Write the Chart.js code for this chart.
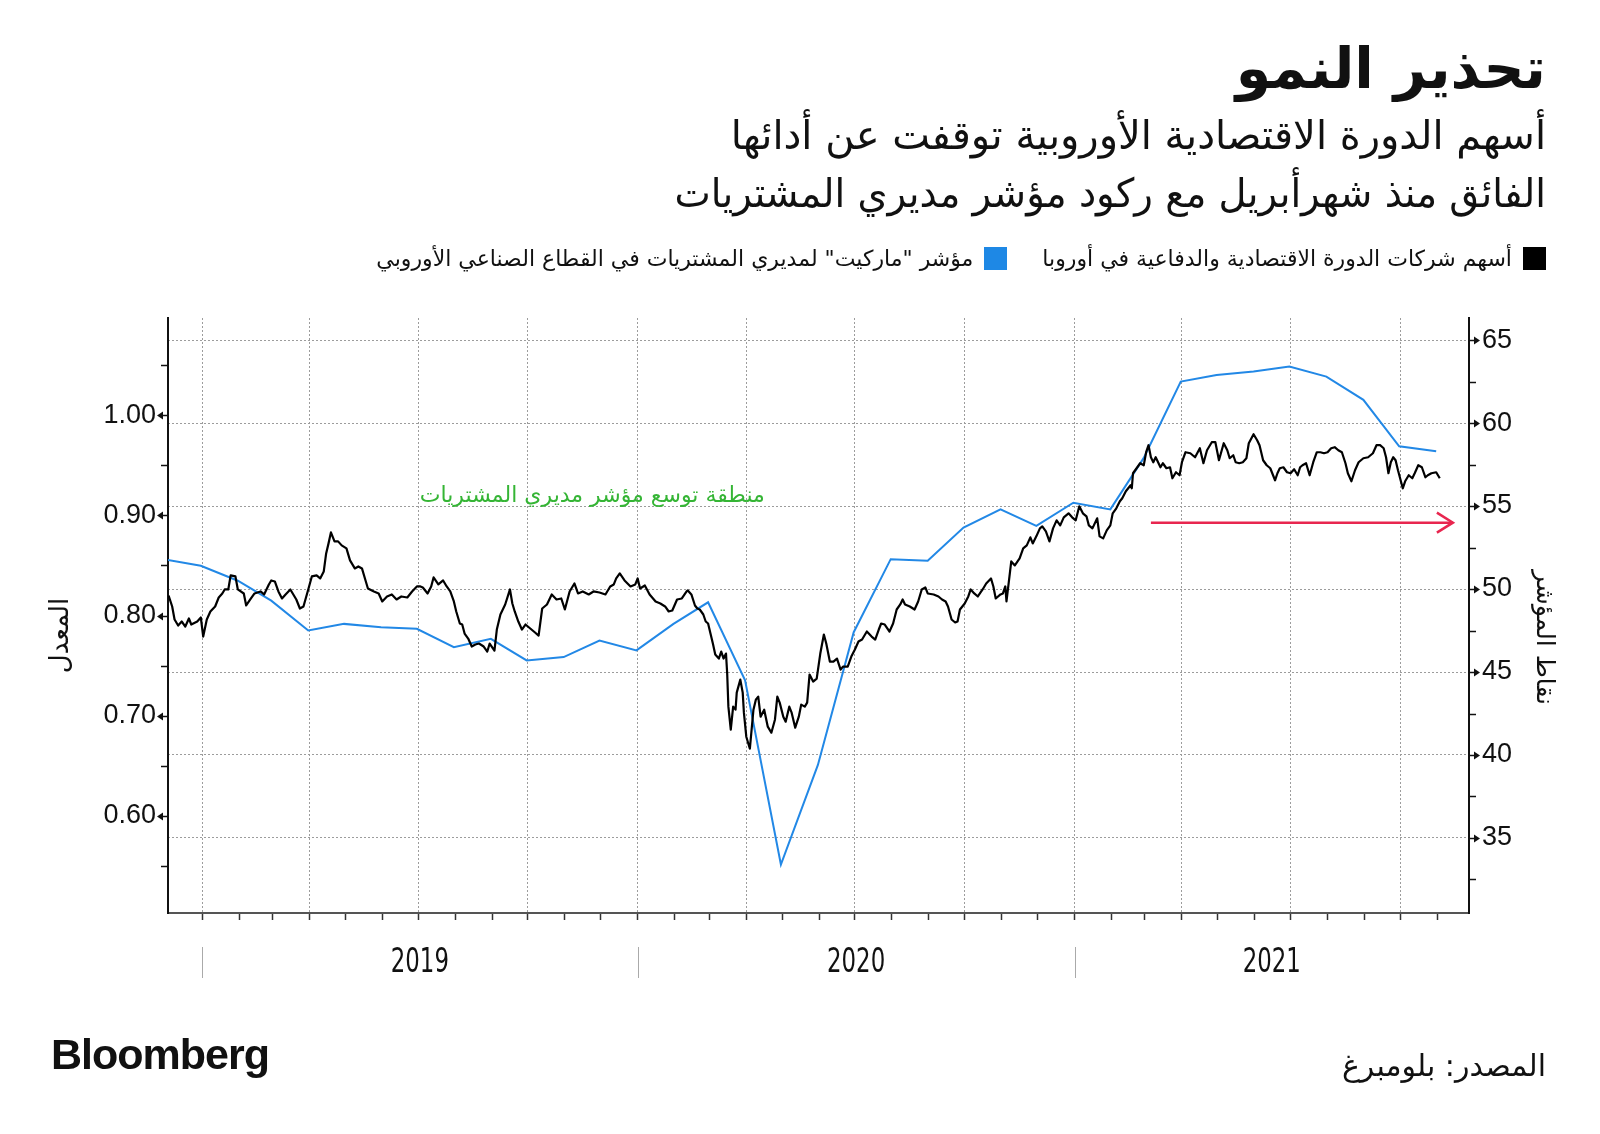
<!DOCTYPE html>
<html lang="ar">
<head>
<meta charset="utf-8">
<title>تحذير النمو</title>
<script src="https://cdn.jsdelivr.net/npm/chart.js@4.4.1/dist/chart.umd.min.js"></script>
<style>
  html, body { margin: 0; padding: 0; background: #fff; }
  #wrap { position: relative; width: 1600px; height: 1134px; overflow: hidden; }
  #chart { position: absolute; left: 0; top: 0; }
  .txt { position: absolute; direction: rtl; white-space: nowrap; font-family: "DejaVu Sans", sans-serif; color: #111; line-height: 1; }
  #title { right: 54px; top: 40px; font-size: 57px; font-weight: bold; }
  .sub { right: 54px; font-size: 40px; }
  #sub1 { top: 115px; }
  #sub2 { top: 173px; transform: scaleX(0.963); transform-origin: right center; }
  #legend { right: 54px; top: 247px; font-size: 22px; display: flex; align-items: center; }
  .item { display: flex; align-items: center; margin-left: 35px; }
  .key { display: inline-block; width: 23px; height: 23px; margin-left: 11px; }
  #source { right: 54px; top: 1051px; font-size: 30px; }
  #brand { left: 51px; top: 1033px; direction: ltr; font-family: "Liberation Sans", sans-serif; font-weight: bold; font-size: 43px; letter-spacing: -1px; }
</style>
</head>
<body>
<div id="wrap">
  <canvas id="chart" width="1600" height="1134"></canvas>
  <div id="title" class="txt">تحذير النمو</div>
  <div id="sub1" class="txt sub">أسهم الدورة الاقتصادية الأوروبية توقفت عن أدائها</div>
  <div id="sub2" class="txt sub">الفائق منذ شهرأبريل مع ركود مؤشر مديري المشتريات</div>
  <div id="legend" class="txt">
    <div class="item"><span class="key" style="background:#000"></span><span>أسهم شركات الدورة الاقتصادية والدفاعية في أوروبا</span></div>
    <div class="item"><span class="key" style="background:#1e88e5"></span><span>مؤشر "ماركيت" لمديري المشتريات في القطاع الصناعي الأوروبي</span></div>
  </div>
  <div id="source" class="txt">المصدر: بلومبرغ</div>
  <div id="brand" class="txt">Bloomberg</div>
</div>
<script>
// days counted from 1 Jan 2019
const ratioDays = [-28,-25,-23,-20,-17,-14,-11,-9,-4,-1,1,4,7,11,14,17,19,22,24,28,30,35,37,41,44,49,52,56,58,61,64,67,70,74,76,79,82,85,89,92,96,99,102,104,106,108,111,114,117,121,124,128,131,134,137,139,144,148,151,155,159,163,167,172,176,180,
  183,185,189,192,194,198,202,205,208,211,213,216,218,220,223,226,229,232,236,239,241,245,247,250,254,258,260,262,265,268,271,275,279,282,285,289,293,297,301,304,308,312,315,319,324,328,333,338,342,345,347,350,354,359,363,365,367,371,375,380,384,388,391,394,398,402,406,
  407,410,413,415,417,420,422,424,426,428,430,433,435,437,439,440,441,443,445,447,448,451,453,454,456,459,462,464,466,468,471,474,477,480,482,484,487,489,492,494,497,500,502,505,507,509,512,515,518,521,523,526,529,532,535,537,541,544,547,550,553,557,561,564,567,569,572,576,579,582,585,587,589,593,597,600,603,606,608,613,617,620,623,625,628,631,633,635,639,642,644,647,650,654,657,661,663,665,669,671,673,674,677,678,681,
  685,688,691,694,696,699,702,704,707,710,713,716,719,722,726,729,732,735,738,741,743,746,750,752,755,758,761,763,766,769,771,774,778,779,780,783,786,789,791,793,795,797,799,803,805,808,811,813,816,819,821,824,828,832,836,839,842,846,849,852,
  856,859,861,864,866,869,872,875,877,881,884,886,889,892,895,898,899,901,903,906,909,912,915,918,920,922,925,928,931,934,937,940,943,946,949,952,955,958,960,963,966,969,973,977,981,984,987,990,992,994,996,998,1000,1002,1006,1008,1011,1014,1016,1019,1022,1025,1027,1030,1034,1037];
const ratioValues = [0.820,0.809,0.796,0.790,0.794,0.789,0.797,0.791,0.794,0.798,0.779,0.796,0.804,0.809,0.818,0.822,0.826,0.826,0.840,0.839,0.826,0.822,0.810,0.817,0.822,0.824,0.821,0.831,0.835,0.834,0.824,0.817,0.821,0.826,0.822,0.816,0.807,0.809,0.826,0.839,0.840,0.837,0.844,0.862,0.872,0.883,0.874,0.874,0.870,0.867,0.855,0.847,0.849,0.847,0.835,0.827,0.824,0.822,0.814,0.819,0.821,0.816,0.819,0.818,0.824,0.829,
  0.829,0.828,0.822,0.829,0.838,0.831,0.835,0.829,0.824,0.814,0.804,0.792,0.791,0.782,0.777,0.769,0.771,0.772,0.769,0.764,0.772,0.765,0.786,0.801,0.811,0.826,0.812,0.804,0.794,0.786,0.791,0.787,0.783,0.780,0.807,0.811,0.821,0.816,0.817,0.806,0.824,0.832,0.822,0.824,0.821,0.824,0.823,0.821,0.829,0.831,0.837,0.842,0.835,0.829,0.831,0.837,0.827,0.830,0.821,0.814,0.812,0.809,0.804,0.805,0.816,0.817,0.824,
  0.825,0.821,0.810,0.807,0.806,0.801,0.794,0.792,0.782,0.772,0.761,0.757,0.764,0.757,0.762,0.742,0.709,0.686,0.709,0.706,0.723,0.736,0.723,0.703,0.679,0.667,0.706,0.716,0.719,0.699,0.706,0.689,0.683,0.696,0.719,0.713,0.699,0.694,0.709,0.703,0.688,0.699,0.711,0.709,0.713,0.741,0.734,0.737,0.762,0.781,0.772,0.754,0.754,0.757,0.746,0.749,0.749,0.759,0.766,0.774,0.776,0.784,0.779,0.776,0.786,0.792,0.791,0.784,0.792,0.806,0.811,0.816,0.811,0.809,0.806,0.814,0.826,0.828,0.822,0.821,0.819,0.816,0.814,0.809,0.796,0.793,0.794,0.806,0.812,0.819,0.826,0.822,0.819,0.826,0.832,0.837,0.829,0.817,0.821,0.822,0.829,0.814,0.844,0.854,0.850,
  0.857,0.867,0.870,0.878,0.872,0.879,0.887,0.889,0.884,0.874,0.887,0.895,0.890,0.898,0.902,0.898,0.895,0.909,0.902,0.899,0.890,0.887,0.897,0.879,0.877,0.885,0.890,0.902,0.907,0.914,0.917,0.924,0.930,0.927,0.942,0.947,0.952,0.950,0.963,0.970,0.958,0.953,0.958,0.948,0.952,0.947,0.948,0.937,0.943,0.940,0.953,0.963,0.962,0.958,0.967,0.952,0.965,0.973,0.973,0.955,
  0.972,0.965,0.957,0.960,0.953,0.952,0.953,0.957,0.972,0.981,0.975,0.970,0.955,0.950,0.947,0.938,0.935,0.942,0.947,0.948,0.943,0.942,0.946,0.940,0.948,0.950,0.952,0.940,0.953,0.963,0.963,0.962,0.963,0.967,0.968,0.965,0.963,0.952,0.942,0.934,0.945,0.953,0.957,0.958,0.962,0.970,0.970,0.967,0.958,0.942,0.953,0.958,0.955,0.945,0.927,0.934,0.940,0.937,0.942,0.950,0.948,0.938,0.940,0.942,0.943,0.937];

const pmiDates = ['2018-11-30','2018-12-31','2019-01-31','2019-02-28','2019-03-31','2019-04-30','2019-05-31','2019-06-30','2019-07-31','2019-08-31','2019-09-30','2019-10-31','2019-11-30','2019-12-31',
  '2020-01-31','2020-02-29','2020-03-31','2020-04-30','2020-05-31','2020-06-30','2020-07-31','2020-08-31','2020-09-30','2020-10-31','2020-11-30','2020-12-31',
  '2021-01-31','2021-02-28','2021-03-31','2021-04-30','2021-05-31','2021-06-30','2021-07-31','2021-08-31','2021-09-30','2021-10-31'];
const pmiValues = [51.8,51.4,50.5,49.3,47.5,47.9,47.7,47.6,46.5,47.0,45.7,45.9,46.9,46.3,47.9,49.2,44.5,33.4,39.4,47.4,51.8,51.7,53.7,54.8,53.8,55.2,54.8,57.9,62.5,62.9,63.1,63.4,62.8,61.4,58.6,58.3];

const arrowDays = [795, 1048];
const arrowLevel = 54.0;
const noteText = 'منطقة توسع مؤشر مديري المشتريات';
const noteDay = 327, noteLevel = 55.6;

const years = ['2019', '2020', '2021'];
const leftTicks = [0.55, 0.60, 0.65, 0.70, 0.75, 0.80, 0.85, 0.90, 0.95, 1.00, 1.05];
const rightTicks = [32.5, 35, 37.5, 40, 42.5, 45, 47.5, 50, 52.5, 55, 57.5, 60, 62.5, 65];
const leftTitle = 'المعدل';
const rightTitle = 'نقاط المؤشر';

const Y0 = Date.UTC(2019, 0, 1);
const toDay = s => (Date.parse(s) - Y0) / 864e5;
const X_MIN = -28.5, X_MAX = 1061.5;

// month-start ticks; dotted grid only at quarter starts
const monthTicks = [];
for (let y = 2018; y <= 2021; y++) {
  for (let m = 0; m < 12; m++) {
    const d = (Date.UTC(y, m, 1) - Y0) / 864e5;
    if (d >= X_MIN && d <= X_MAX) monthTicks.push({ value: d, quarter: m % 3 === 0 });
  }
}
const quarterDays = new Set(monthTicks.filter(t => t.quarter).map(t => t.value));
const yearStarts = years.map(y => (Date.UTC(+y, 0, 1) - Y0) / 864e5);
// year label sits in the middle of the visible part of that year
const yearCentres = years.map((y, i) => {
  const a = Math.max(yearStarts[i], X_MIN);
  const b = Math.min((Date.UTC(+y + 1, 0, 1) - Y0) / 864e5, X_MAX);
  return (a + b) / 2;
});

const isMajorLeft = v => Math.round(v * 100) % 10 === 0;
const isMajorRight = v => Math.round(v * 10) % 50 === 0;

const RED = '#e8264f';
const GRID = '#9c9c9c';

const extras = {
  id: 'extras',
  afterDatasetsDraw(chart) {
    const { ctx, scales } = chart;
    const meta = chart.getDatasetMeta(2);
    const p = meta.data[meta.data.length - 1];
    ctx.save();
    ctx.strokeStyle = RED;
    ctx.lineWidth = 2.5;
    ctx.beginPath();
    ctx.moveTo(p.x - 16, p.y - 10);
    ctx.lineTo(p.x, p.y);
    ctx.lineTo(p.x - 16, p.y + 10);
    ctx.stroke();
    ctx.fillStyle = '#35b535';
    ctx.font = '22px "DejaVu Sans"';
    ctx.direction = 'rtl';
    ctx.textAlign = 'center';
    ctx.textBaseline = 'middle';
    ctx.fillText(noteText, scales.x.getPixelForValue(noteDay), scales.y1.getPixelForValue(noteLevel));
    ctx.restore();
  },
  afterDraw(chart) {
    const { ctx, chartArea: a, scales } = chart;
    ctx.save();
    ctx.fillStyle = '#111';
    ctx.strokeStyle = '#111';
    ctx.lineWidth = 1.5;
    const marks = (scale, edge, dir, isMajor) => {
      scale.ticks.forEach(t => {
        const py = Math.round(scale.getPixelForValue(t.value)) + 0.5;
        ctx.beginPath();
        ctx.moveTo(edge, py);
        ctx.lineTo(edge + dir * 6, py);
        ctx.stroke();
        if (isMajor(t.value)) {
          ctx.beginPath();
          ctx.moveTo(edge + dir * 10, py);
          ctx.lineTo(edge + dir * 4, py - 4);
          ctx.lineTo(edge + dir * 4, py + 4);
          ctx.closePath();
          ctx.fill();
        }
      });
    };
    marks(scales.y, a.left - 1, -1, isMajorLeft);
    marks(scales.y1, a.right + 1, 1, isMajorRight);

    // year separators and labels under the axis
    ctx.strokeStyle = '#aaa';
    ctx.lineWidth = 1;
    yearStarts.forEach(d => {
      const px = Math.round(scales.x.getPixelForValue(d)) + 0.5;
      ctx.beginPath();
      ctx.moveTo(px, a.bottom + 34);
      ctx.lineTo(px, a.bottom + 65);
      ctx.stroke();
    });
    ctx.font = '33px "DejaVu Sans Condensed", "DejaVu Sans", sans-serif';
    ctx.textAlign = 'center';
    ctx.textBaseline = 'middle';
    years.forEach((y, i) => {
      ctx.save();
      ctx.translate(scales.x.getPixelForValue(yearCentres[i]), a.bottom + 50);
      ctx.scale(0.77, 1);
      ctx.fillText(y, 0, 0);
      ctx.restore();
    });

    // axis titles
    const mid = (a.top + a.bottom) / 2;
    ctx.font = '26px "DejaVu Sans"';
    ctx.direction = 'rtl';
    ctx.save();
    ctx.translate(61, mid + 20);
    ctx.rotate(-Math.PI / 2);
    ctx.fillText(leftTitle, 0, 0);
    ctx.restore();
    ctx.font = '25px "DejaVu Sans"';
    ctx.save();
    ctx.translate(a.right + 74, mid + 22);
    ctx.rotate(Math.PI / 2);
    ctx.fillText(rightTitle, 0, 0);
    ctx.restore();
    ctx.restore();
  }
};

new Chart(document.getElementById('chart'), {
  type: 'line',
  data: {
    datasets: [
      {
        label: 'أسهم شركات الدورة الاقتصادية والدفاعية في أوروبا',
        data: ratioDays.map((d, i) => ({ x: d, y: ratioValues[i] })),
        yAxisID: 'y', borderColor: '#000', borderWidth: 2.2, pointRadius: 0, borderJoinStyle: 'round'
      },
      {
        label: 'مؤشر "ماركيت" لمديري المشتريات في القطاع الصناعي الأوروبي',
        data: pmiDates.map((s, i) => ({ x: toDay(s), y: pmiValues[i] })),
        yAxisID: 'y1', borderColor: '#2288e6', borderWidth: 2, pointRadius: 0
      },
      {
        label: 'arrow',
        data: arrowDays.map(d => ({ x: d, y: arrowLevel })),
        yAxisID: 'y1', borderColor: RED, borderWidth: 2.5, pointRadius: 0
      }
    ]
  },
  options: {
    responsive: false,
    animation: false,
    devicePixelRatio: 1,
    layout: { padding: { top: 318, left: 0, right: 0, bottom: 0 } },
    plugins: { legend: { display: false }, tooltip: { enabled: false } },
    scales: {
      x: {
        type: 'linear', min: X_MIN, max: X_MAX,
        afterFit: s => { s.height = 1134 - 913; },
        afterBuildTicks: s => { s.ticks = monthTicks.map(t => ({ value: t.value })); },
        ticks: { autoSkip: false, maxRotation: 0, minRotation: 0, callback: () => '' },
        grid: {
          drawOnChartArea: true, drawTicks: true, tickLength: 7, tickWidth: 1.5, tickBorderDash: [], tickColor: '#333',
          color: c => (c.tick && quarterDays.has(c.tick.value)) ? GRID : 'transparent'
        },
        border: { display: true, color: '#555', width: 2, dash: [2, 2] }
      },
      y: {
        position: 'left', min: 0.503, max: 1.097,
        afterFit: s => { s.width = 168; },
        afterBuildTicks: s => { s.ticks = leftTicks.map(v => ({ value: v })); },
        ticks: {
          padding: 12, color: '#111', font: { family: '"Liberation Sans", sans-serif', size: 27 },
          callback: v => isMajorLeft(v) ? v.toFixed(2) : ''
        },
        grid: { display: false, drawTicks: false },
        border: { display: true, color: '#111', width: 2 }
      },
      y1: {
        position: 'right', min: 30.48, max: 66.33,
        afterFit: s => { s.width = 1600 - 1469; },
        afterBuildTicks: s => { s.ticks = rightTicks.map(v => ({ value: v })); },
        ticks: {
          padding: 13, color: '#111', font: { family: '"Liberation Sans", sans-serif', size: 27 },
          callback: v => isMajorRight(v) ? String(v) : ''
        },
        grid: {
          drawOnChartArea: true, drawTicks: false,
          color: c => (c.tick && isMajorRight(c.tick.value)) ? GRID : 'transparent'
        },
        border: { display: true, color: '#111', width: 2, dash: [2, 2] }
      }
    }
  },
  plugins: [extras]
});
</script>
</body>
</html>
